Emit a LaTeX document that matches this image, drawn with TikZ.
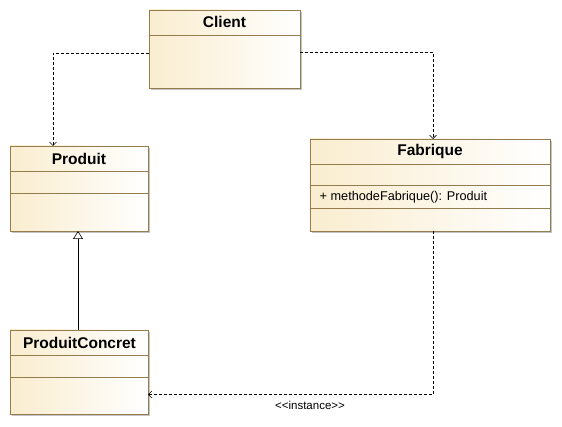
\documentclass[tikz,border=0pt]{standalone}
\usepackage{fontspec}
\setmainfont{Liberation Sans}
\usetikzlibrary{arrows.meta,shadows}
\definecolor{bordercol}{HTML}{947C4E}
\definecolor{filltan}{HTML}{FAEDCF}
\definecolor{shadowcol}{HTML}{C4C4C4}
\tikzset{
  classbox/.style={draw=bordercol, line width=0.9pt, left color=filltan, right color=white,
    drop shadow={shadow xshift=2pt, shadow yshift=-2pt, fill=shadowcol, opacity=1},
    anchor=north west, inner sep=0pt, outer sep=0pt},
  sep/.style={draw=bordercol, line width=0.9pt},
  title/.style={font=\fontsize{15.5}{18}\selectfont\bfseries, inner sep=0pt},
  member/.style={font=\fontsize{12.7}{15}\selectfont, inner sep=0pt, anchor=west},
  dep/.style={draw=black, line width=0.6pt, dash pattern=on 3pt off 2pt, -{Straight Barb[length=3.5pt,width=7pt,line width=0.6pt]}},
  gen/.style={draw=black, line width=0.6pt, -{Triangle[open,length=8pt,width=10pt,line width=0.6pt]}},
  lbl/.style={font=\fontsize{11.5}{13}\selectfont, inner sep=0pt}
}
\begin{document}
\begin{tikzpicture}[x=1pt,y=-1pt]
\useasboundingbox (0,0) rectangle (562,427);
% Client
\node[classbox, minimum width=151pt, minimum height=78pt] (client) at (149,10) {};
\draw[sep] (149,35) -- (300,35);
\node[title] at (224.5,22) {Client};
% Produit
\node[classbox, minimum width=138pt, minimum height=85pt] (produit) at (10,146) {};
\draw[sep] (10,171.5) -- (148,171.5);
\draw[sep] (10,193) -- (148,193);
\node[title] at (79,158.5) {Produit};
% Fabrique
\node[classbox, minimum width=240pt, minimum height=92pt] (fabrique) at (310,139) {};
\draw[sep] (310,164) -- (550,164);
\draw[sep] (310,185.5) -- (550,185.5);
\draw[sep] (310,208.5) -- (550,208.5);
\node[title] at (430,151.5) {Fabrique};
\node[member] at (319.5,197.5) {+ methodeFabrique(): Produit};
% ProduitConcret
\node[classbox, minimum width=138pt, minimum height=84pt] (concret) at (10,330) {};
\draw[sep] (10,355) -- (148,355);
\draw[sep] (10,377) -- (148,377);
\node[title] at (79.5,342.5) {ProduitConcret};
% connectors
\coordinate (c1) at (53,53);
\coordinate (c2) at (433,52);
\coordinate (c3) at (433,394.5);
\draw[dep] (client.west |- c1) -- (c1) -- (c1 |- produit.north);
\draw[dep] (client.east |- c2) -- (c2) -- (c2 |- fabrique.north);
\draw[gen] (concret.north -| 78,0) -- (produit.south -| 78,0);
\draw[dep] (c3 |- fabrique.south) -- (c3) -- (concret.east |- c3);
\node[lbl] (inst) at (310,405) {\mbox{<}\mbox{<}instance\mbox{>}\mbox{>}};
\end{tikzpicture}
\end{document}
